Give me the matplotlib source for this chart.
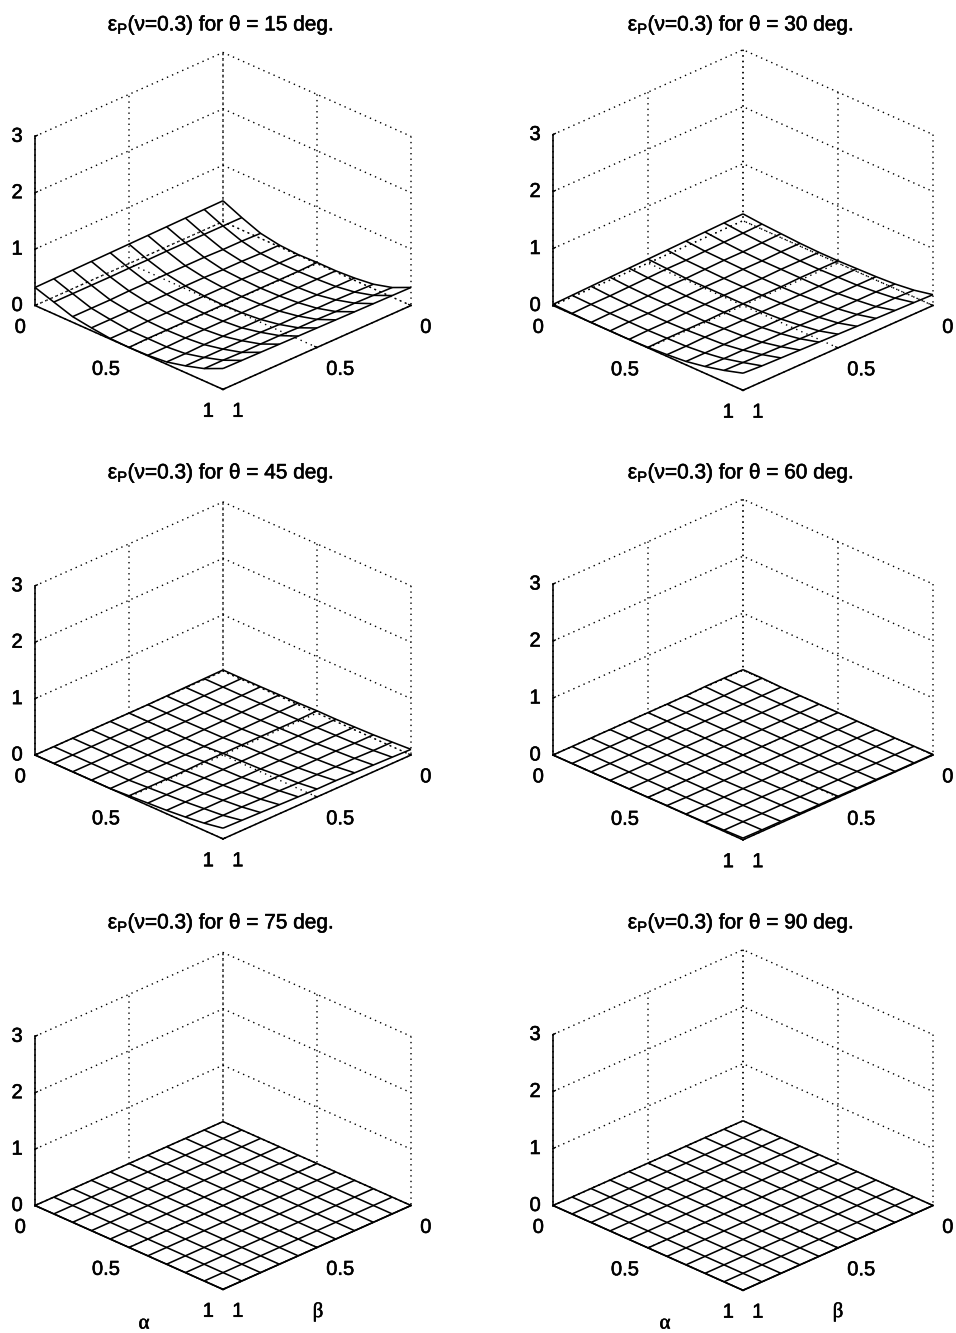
import numpy as np
import matplotlib
matplotlib.use('Agg')
import matplotlib.pyplot as plt
import matplotlib.patheffects as pe
from matplotlib.text import Text
from mpl_toolkits.mplot3d import proj3d

W, H = 956, 1333

ALPHA = [0, .1, .2, .3, .4, .5, .6, .7, .8, .9, 1]
BETA = [0, .1, .2, .3, .4, .5, .6, .7, .8, .9, 1]
THETAS = [15, 30, 45, 60, 75, 90]
NU = 0.3

# rows: alpha, columns: beta
E_15 = [
    [.37, .365, .36, .355, .35, .345, .34, .335, .33, .325, .32],
    [.22, .22, .22, .22, .22, .215, .215, .21, .21, .21, .21],
    [.09, .10, .10, .11, .11, .11, .11, .11, .10, .10, .10],
    [.03, .03, .04, .04, .05, .05, .05, .05, .05, .05, .05],
    [.01, .01, .01, .02, .02, .02, .02, .02, .02, .01, .01],
    [.02, .01, .01, .01, .01, .01, .01, .01, .01, .01, .00],
    [.02, .02, .02, .02, .02, .02, .02, .02, .02, .01, .01],
    [.04, .04, .04, .05, .05, .05, .05, .05, .05, .04, .04],
    [.08, .09, .10, .10, .11, .11, .12, .12, .12, .12, .12],
    [.17, .18, .19, .19, .20, .20, .21, .21, .21, .22, .22],
    [.32, .325, .33, .335, .34, .345, .35, .355, .36, .365, .37],
]
E_30 = [
    [.12, .11, .10, .09, .08, .07, .06, .05, .04, .03, .02],
    [.09, .08, .07, .06, .05, .05, .04, .03, .02, .02, .01],
    [.07, .06, .05, .05, .04, .03, .03, .02, .01, .01, .00],
    [.05, .05, .04, .04, .03, .03, .02, .02, .01, .01, .00],
    [.04, .04, .04, .03, .03, .03, .02, .02, .01, .01, .00],
    [.04, .04, .04, .03, .03, .03, .03, .02, .02, .02, .01],
    [.05, .05, .04, .04, .04, .04, .04, .04, .04, .03, .03],
    [.06, .06, .06, .06, .06, .06, .06, .06, .06, .06, .06],
    [.08, .09, .09, .09, .09, .10, .10, .10, .11, .11, .12],
    [.12, .13, .13, .14, .14, .15, .16, .17, .18, .19, .20],
    [.19, .20, .21, .22, .23, .24, .25, .26, .27, .28, .30],
]
E_45 = [
    [.02, .015, .01, .005, .00, .00, .00, .00, .00, .00, .00],
    [.02, .015, .01, .005, .00, .00, .00, .00, .00, .00, .00],
    [.02, .015, .01, .005, .00, .00, .00, .00, .00, .00, .00],
    [.025, .02, .015, .01, .005, .00, .00, .00, .00, .00, .00],
    [.03, .025, .02, .015, .01, .005, .005, .005, .005, .00, .00],
    [.04, .03, .03, .03, .03, .03, .03, .02, .02, .02, .02],
    [.04, .04, .04, .04, .04, .04, .04, .04, .04, .04, .04],
    [.05, .05, .05, .05, .05, .05, .05, .06, .06, .06, .06],
    [.06, .06, .07, .07, .07, .08, .08, .08, .09, .09, .09],
    [.08, .08, .09, .09, .10, .10, .11, .11, .12, .12, .13],
    [.10, .11, .12, .13, .14, .14, .15, .16, .17, .18, .19],
]
E_60 = [
    [.01, .01, .01, .00, .00, .00, .00, .00, .00, .00, .00],
    [.01, .01, .00, .00, .00, .00, .00, .00, .00, .00, .00],
    [.00, .00, .00, .00, .00, .00, .00, .00, .00, .00, .00],
    [.00, .00, .00, .00, .00, .00, .00, .00, .00, .00, .00],
    [.00, .00, .00, .00, .00, .00, .00, .00, .00, .00, .00],
    [.00, .00, .00, .00, .00, .00, .00, .00, .00, .00, .00],
    [.00, .00, .00, .00, .00, .00, .00, .00, .00, .00, .005],
    [.00, .00, .00, .00, .00, .00, .00, .005, .005, .005, .005],
    [.00, .00, .00, .00, .005, .005, .005, .01, .01, .01, .01],
    [.005, .005, .005, .01, .01, .01, .01, .015, .015, .02, .02],
    [.01, .01, .01, .015, .015, .02, .02, .02, .025, .025, .03],
]
E_75 = np.zeros((11, 11))
E_90 = np.zeros((11, 11))
SURFACES = [E_15, E_30, E_45, E_60, E_75, E_90]

XY_TICKS = [0, 0.5, 1]
XY_LABELS = ['0', '0.5', '1']
Z_TICKS = [0, 1, 2, 3]
Z_LABELS = ['0', '1', '2', '3']

plt.rcParams['font.family'] = ['Liberation Sans', 'DejaVu Sans']
plt.rcParams['mathtext.fontset'] = 'custom'
plt.rcParams['mathtext.rm'] = 'Liberation Sans'
plt.rcParams['mathtext.it'] = 'Liberation Sans'
plt.rcParams['mathtext.default'] = 'regular'

# pixel positions of the box corners: (left, right) per column, floor y per row
COLS = [(35, 411), (553, 933)]
ROWS = [305.5, 755, 1205.5]
TITLE_X = [221, 741]
TITLE_Y = [25, 473, 923]


def place_axes(ax, left_x, right_x, floor_y):
    """Shift and scale the axes so the floor corners land on given pixels."""
    px = []
    for xd, yd in [(1, 0), (0, 1)]:
        a, b, _ = proj3d.proj_transform(xd, yd, 0, ax.get_proj())
        px.append(ax.transData.transform((a, b)))
    (x0, y0), (x1, y1) = px
    pos = ax.get_position()
    old = pos.width * W
    new = old * (right_x - left_x) / (x1 - x0)
    # position of the corner relative to the axes box, in units of its side
    fx = (x0 - pos.x0 * W) / old
    fy = (y0 - pos.y0 * H) / old
    ax.set_position([(left_x - fx * new) / W, (H - floor_y - fy * new) / H, new / W, new / H])


def draw_panel(fig, i):
    col, row = i % 2, i // 2
    ax = fig.add_axes([0.1, 0.1, 400 / W, 400 / H], projection='3d', proj_type='ortho')
    ax.patch.set_alpha(0)
    ax.view_init(elev=26.5, azim=45)
    ax.set_box_aspect((1, 1, 0.711))
    ax.set_xlim(0, 1)
    ax.set_ylim(0, 1)
    ax.set_zlim(0, 3)
    ax.set_xticks(XY_TICKS)
    ax.set_yticks(XY_TICKS)
    ax.set_zticks(Z_TICKS)
    ax.set_xticklabels(XY_LABELS, ha='left', va='top')
    ax.set_yticklabels(XY_LABELS, ha='right', va='top')
    ax.set_zticklabels(Z_LABELS, ha='center', va='center')
    ax.tick_params(labelsize=14.5)
    ax.tick_params(axis='x', pad=-0.5)
    ax.tick_params(axis='y', pad=-0.5)
    ax.tick_params(axis='z', pad=-0.7)
    for axis in (ax.xaxis, ax.yaxis, ax.zaxis):
        axis.set_pane_color((1, 1, 1, 0))
        axis.pane.set_edgecolor((1, 1, 1, 0))
        axis.line.set_color('black')
        axis.line.set_linewidth(1.15)
        axis._axinfo['grid'].update(color='black', linewidth=1.0, linestyle=(0, (1, 3)))
        axis._axinfo['tick'].update(inward_factor=0.0, outward_factor=0.15)
        axis._axinfo['tick']['linewidth'] = {True: 1.0, False: 0.5}
    ax.zaxis.set_ticks_position('lower')

    X, Y = np.meshgrid(BETA, ALPHA)
    ax.plot_wireframe(X, Y, np.array(SURFACES[i]), rstride=1, cstride=1,
                      color='black', linewidth=1.15)

    place_axes(ax, COLS[col][0], COLS[col][1], ROWS[row])

    fig.text(TITLE_X[col] / W, 1 - TITLE_Y[row] / H,
             '$ε_{P}$(ν=%.1f) for θ = %d deg.' % (NU, THETAS[i]),
             fontsize=15, ha='center', va='center')
    return ax


fig = plt.figure(figsize=(W / 100, H / 100), dpi=100)
for i in range(len(THETAS)):
    draw_panel(fig, i)

for x in (144, 665):
    fig.text(x / W, 1 - 1324 / H, 'α', family='Liberation Serif', fontsize=15, ha='center', va='center')
for x in (318, 838):
    fig.text(x / W, 1 - 1312 / H, 'β', family='Liberation Serif', fontsize=15, ha='center', va='center')

# the scanned original has heavier strokes than a clean render
for t in fig.findobj(Text):
    t.set_path_effects([pe.withStroke(linewidth=0.4, foreground='black')])

fig.savefig('out.png', dpi=100)
